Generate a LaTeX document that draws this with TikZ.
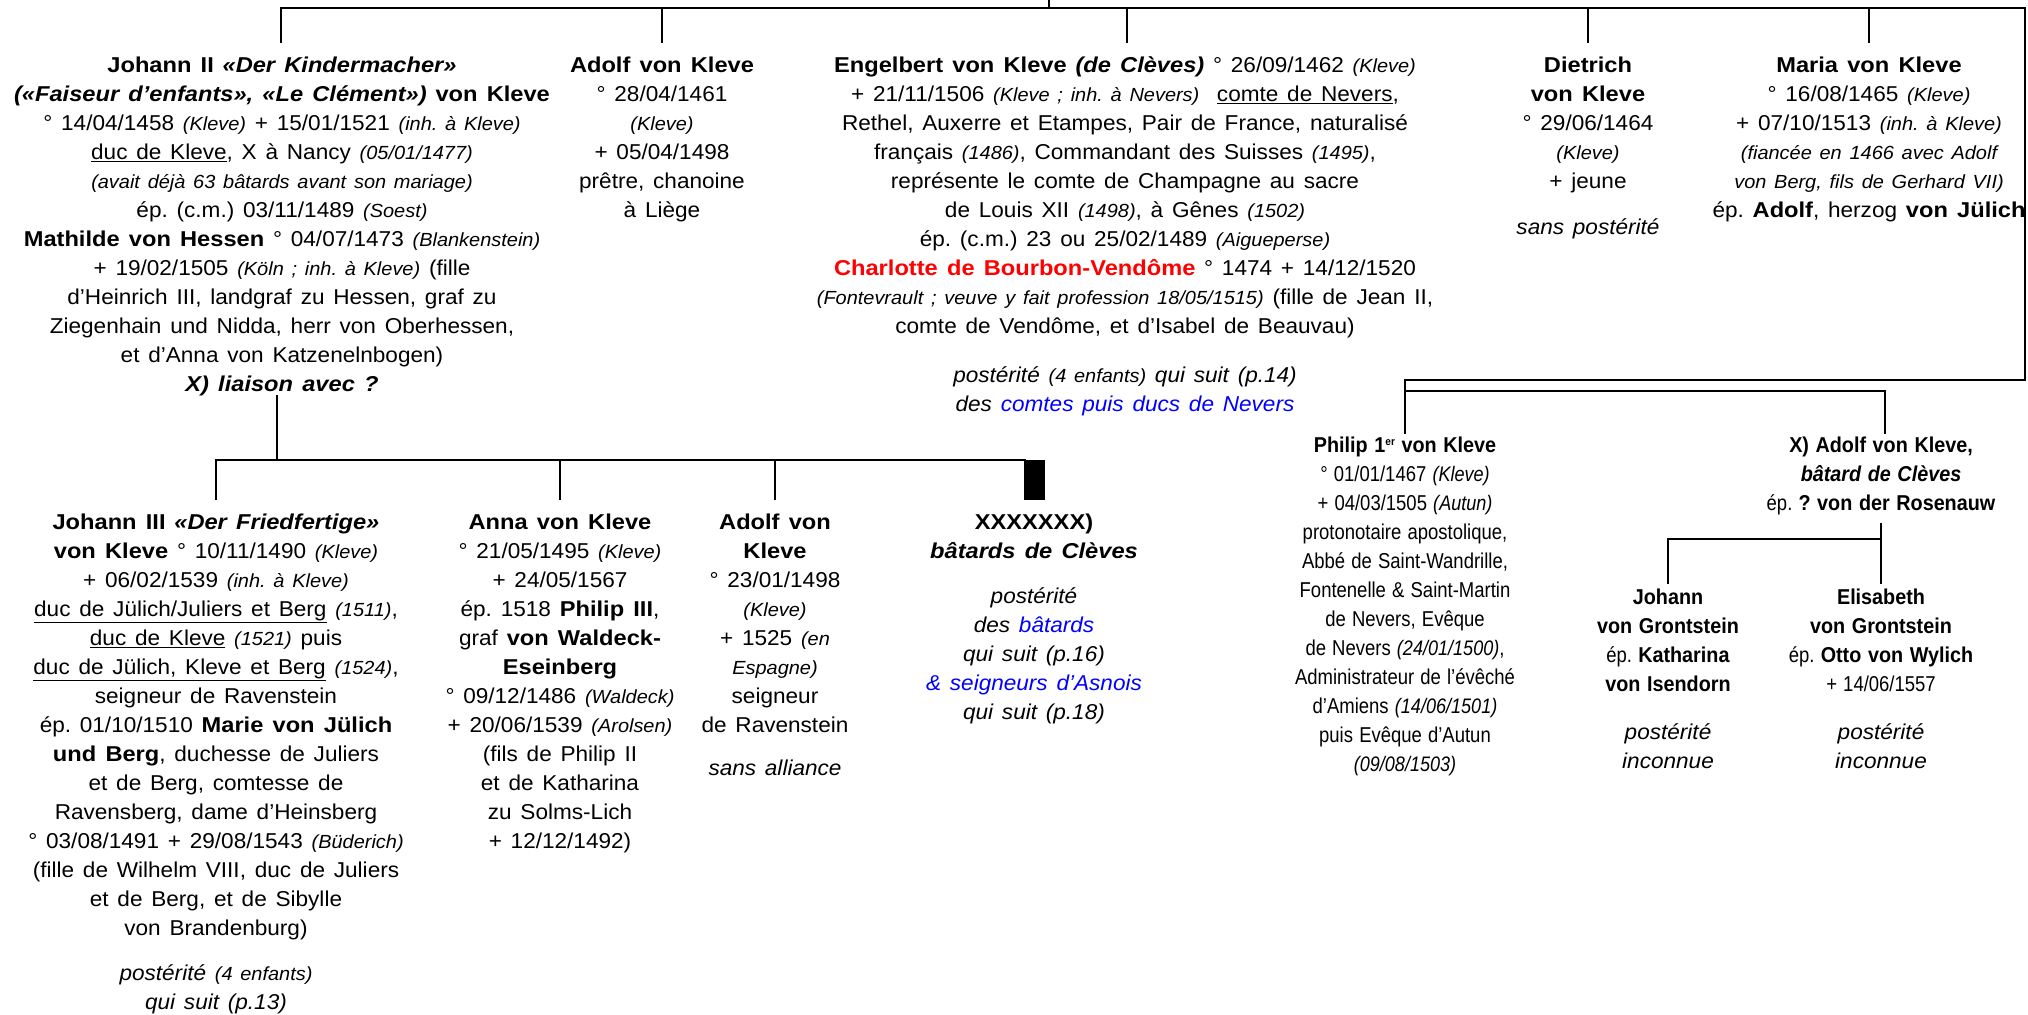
\documentclass[tikz,border=0pt]{standalone}
\usepackage{fontspec}
\setmainfont{Liberation Sans}[WordSpace=1.4,
  UprightFeatures={FakeStretch=1.05},
  ItalicFeatures={FakeStretch=1.05},
  BoldFeatures={FakeStretch=1.1},
  BoldItalicFeatures={FakeStretch=1.1}]
\newfontfamily\narrowf{Liberation Sans}[WordSpace=1.2,
  UprightFeatures={FakeStretch=0.86},
  ItalicFeatures={FakeStretch=0.86},
  BoldFeatures={FakeStretch=0.92},
  BoldItalicFeatures={FakeStretch=0.92}]
\newcommand{\si}[1]{{\fontsize{19}{29}\selectfont\itshape #1}}
\newcommand{\nsi}[1]{{\fontsize{21}{29}\selectfont\itshape #1}}
\newcommand{\bi}[1]{{\bfseries\itshape #1}}
\newcommand{\ii}[1]{{\itshape #1}}
\newcommand{\wi}[1]{{\rmfamily\itshape #1}}
\newcommand{\supr}[1]{\raisebox{7pt}{\fontsize{11}{11}\selectfont #1}}
\definecolor{lnkblue}{RGB}{0,0,255}
\definecolor{redname}{RGB}{255,0,0}
\frenchspacing
\begin{document}
\begin{tikzpicture}[x=1pt,y=-1pt,
  conn/.style={line width=2.6pt},
  txt/.style={anchor=north, align=center, inner sep=0pt, font=\fontsize{21.5}{29}\selectfont},
  ntxt/.style={anchor=north, align=center, inner sep=0pt, font=\narrowf\fontsize{21.5}{29}\selectfont}]
\useasboundingbox (0,0) rectangle (2028,1014);

% ---------- coordinates for connectors ----------
\coordinate (parent) at (1049,0);
\coordinate (pbar) at (1049,8);
\coordinate (barL) at (281,8);
\coordinate (barR) at (2025,8);
\coordinate (tA) at (281,43);
\coordinate (bB) at (662,8);   \coordinate (tB) at (662,43);
\coordinate (bC) at (1127,8);  \coordinate (tC) at (1127,43);
\coordinate (bD) at (1588,8);  \coordinate (tD) at (1588,43);
\coordinate (bE) at (1869,8);  \coordinate (tE) at (1869,43);
\coordinate (loopR) at (2025,380);
\coordinate (loopL) at (1405,380);
\coordinate (tJ) at (1405,434);
\coordinate (sJ) at (1405,391);
\coordinate (sK) at (1885,391);
\coordinate (tK) at (1885,434);
\coordinate (fromA) at (277,395);
\coordinate (gbar) at (277,460);
\coordinate (gL) at (216,460);  \coordinate (tF) at (216,500);
\coordinate (gG) at (560,460);  \coordinate (tG) at (560,500);
\coordinate (gH) at (775,460);  \coordinate (tH) at (775,500);
\coordinate (gR) at (1026,460);
\coordinate (fromK) at (1881,523);
\coordinate (kbar) at (1881,539);
\coordinate (kL) at (1668,539);
\coordinate (tL) at (1668,584);
\coordinate (tM) at (1881,584);

% ---------- connectors ----------
\draw[conn] (parent) -- (pbar);
\draw[conn] (tA) -- (barL) -- (barR) -- (loopR) -- (loopL) -- (tJ);
\draw[conn] (bB) -- (tB);
\draw[conn] (bC) -- (tC);
\draw[conn] (bD) -- (tD);
\draw[conn] (bE) -- (tE);
\draw[conn] (sJ) -- (sK) -- (tK);
\draw[conn] (fromA) -- (gbar);
\draw[conn] (tF) -- (gL) -- (gR);
\draw[conn] (gG) -- (tG);
\draw[conn] (gH) -- (tH);
\fill (1024,460) rectangle (1045,500) node[coordinate] (bastmark) {};
\draw[conn] (fromK) -- (kbar);
\draw[conn] (tL) -- (kL) -- (kbar) -- (tM);

% ---------- first generation ----------
\node[txt] (johannII) at (282,57) {%
\textbf{Johann II} \bi{«Der Kindermacher»}\\
\bi{(«Faiseur d’enfants», «Le Clément»)} \textbf{von Kleve}\\
° 14/04/1458 \si{(Kleve)} + 15/01/1521 \si{(inh. à Kleve)}\\
\underline{duc de Kleve}, X à Nancy \si{(05/01/1477)}\\
\si{(avait déjà 63 bâtards avant son mariage)}\\
ép. (c.m.) 03/11/1489 \si{(Soest)}\\
\textbf{Mathilde von Hessen} ° 04/07/1473 \si{(Blankenstein)}\\
+ 19/02/1505 \si{(Köln ; inh. à Kleve)} (fille\\
d’Heinrich III, landgraf zu Hessen, graf zu\\
Ziegenhain und Nidda, herr von Oberhessen,\\
et d’Anna von Katzenelnbogen)\\
\bi{X) liaison avec ?}};

\node[txt] (adolfI) at (662,57) {%
\textbf{Adolf von Kleve}\\
° 28/04/1461\\
\si{(Kleve)}\\
+ 05/04/1498\\
prêtre, chanoine\\
à Liège};

\node[txt] (engelbert) at (1125,57) {%
\textbf{Engelbert von Kleve} \bi{(de Clèves)} ° 26/09/1462 \si{(Kleve)}\\
+ 21/11/1506 \si{(Kleve ; inh. à Nevers)}\ \ \underline{comte de Nevers},\\
Rethel, Auxerre et Etampes, Pair de France, naturalisé\\
français \si{(1486)}, Commandant des Suisses \si{(1495)},\\
représente le comte de Champagne au sacre\\
de Louis XII \si{(1498)}, à Gênes \si{(1502)}\\
ép. (c.m.) 23 ou 25/02/1489 \si{(Aigueperse)}\\
{\color{redname}\textbf{Charlotte de Bourbon-Vendôme}} ° 1474 + 14/12/1520\\
\si{(Fontevrault ; veuve y fait profession 18/05/1515)} (fille de Jean II,\\
comte de Vendôme, et d’Isabel de Beauvau)\\[20pt]
\ii{postérité} \si{(4 enfants)} \ii{qui suit (p.14)}\\
\ii{des {\color{lnkblue}comtes puis ducs de Nevers}}};

\node[txt] (dietrich) at (1588,57) {%
\textbf{Dietrich}\\
\textbf{von Kleve}\\
° 29/06/1464\\
\si{(Kleve)}\\
+ jeune\\[17pt]
\ii{sans postérité}};

\node[txt] (maria) at (1869,57) {%
\textbf{Maria von Kleve}\\
° 16/08/1465 \si{(Kleve)}\\
+ 07/10/1513 \si{(inh. à Kleve)}\\
\si{(fiancée en 1466 avec Adolf}\\
\si{von Berg, fils de Gerhard VII)}\\
ép. \textbf{Adolf}, herzog \textbf{von Jülich}};

% ---------- children of Johann II ----------
\node[txt] (johannIII) at (216,514) {%
\textbf{Johann III} \bi{«Der Friedfertige»}\\
\textbf{von Kleve} ° 10/11/1490 \si{(Kleve)}\\
+ 06/02/1539 \si{(inh. à Kleve)}\\
\underline{duc de Jülich/Juliers et Berg} \si{(1511)},\\
\underline{duc de Kleve} \si{(1521)} puis\\
\underline{duc de Jülich, Kleve et Berg} \si{(1524)},\\
seigneur de Ravenstein\\
ép. 01/10/1510 \textbf{Marie von Jülich}\\
\textbf{und Berg}, duchesse de Juliers\\
et de Berg, comtesse de\\
Ravensberg, dame d’Heinsberg\\
° 03/08/1491 + 29/08/1543 \si{(Büderich)}\\
(fille de Wilhelm VIII, duc de Juliers\\
et de Berg, et de Sibylle\\
von Brandenburg)\\[16pt]
\ii{postérité} \si{(4 enfants)}\\
\ii{qui suit (p.13)}};

\node[txt] (anna) at (560,514) {%
\textbf{Anna von Kleve}\\
° 21/05/1495 \si{(Kleve)}\\
+ 24/05/1567\\
ép. 1518 \textbf{Philip III},\\
graf \textbf{von Waldeck-}\\
\textbf{Eseinberg}\\
° 09/12/1486 \si{(Waldeck)}\\
+ 20/06/1539 \si{(Arolsen)}\\
(fils de Philip II\\
et de Katharina\\
zu Solms-Lich\\
+ 12/12/1492)};

\node[txt] (adolfII) at (775,514) {%
\textbf{Adolf von}\\
\textbf{Kleve}\\
° 23/01/1498\\
\si{(Kleve)}\\
+ 1525 \si{(en}\\
\si{Espagne)}\\
seigneur\\
de Ravenstein\\[14pt]
\ii{sans alliance}};

\node[txt] (batards) at (1034,514) {%
\textbf{XXXXXXX)}\\
\bi{bâtards de Clèves}\\[16pt]
\ii{postérité}\\
\ii{des {\color{lnkblue}bâtards}}\\
\ii{qui suit (p.16)}\\
\ii{\color{lnkblue}\& seigneurs d’Asnois}\\
\ii{qui suit (p.18)}};

% ---------- Philip and the bastard Adolf ----------
\node[ntxt] (philip) at (1405,437) {%
\textbf{Philip 1\supr{er} von Kleve}\\
° 01/01/1467 \nsi{(Kleve)}\\
+ 04/03/1505 \nsi{(Autun)}\\
protonotaire apostolique,\\
Abbé de Saint-Wandrille,\\
Fontenelle \& Saint-Martin\\
de Nevers, Evêque\\
de Nevers \nsi{(24/01/1500)},\\
Administrateur de l’évêché\\
d’Amiens \nsi{(14/06/1501)}\\
puis Evêque d’Autun\\
\nsi{(09/08/1503)}};

\node[ntxt] (adolfbat) at (1881,437) {%
\textbf{X) Adolf von Kleve,}\\
\bi{bâtard de Clèves}\\
ép. \textbf{? von der Rosenauw}};

\node[ntxt] (johannG) at (1668,589) {%
\textbf{Johann}\\
\textbf{von Grontstein}\\
ép. \textbf{Katharina}\\
\textbf{von Isendorn}\\[19pt]
\wi{postérité}\\
\wi{inconnue}};

\node[ntxt] (elisabeth) at (1881,589) {%
\textbf{Elisabeth}\\
\textbf{von Grontstein}\\
ép. \textbf{Otto von Wylich}\\
+ 14/06/1557\\[19pt]
\wi{postérité}\\
\wi{inconnue}};
\end{tikzpicture}
\end{document}
